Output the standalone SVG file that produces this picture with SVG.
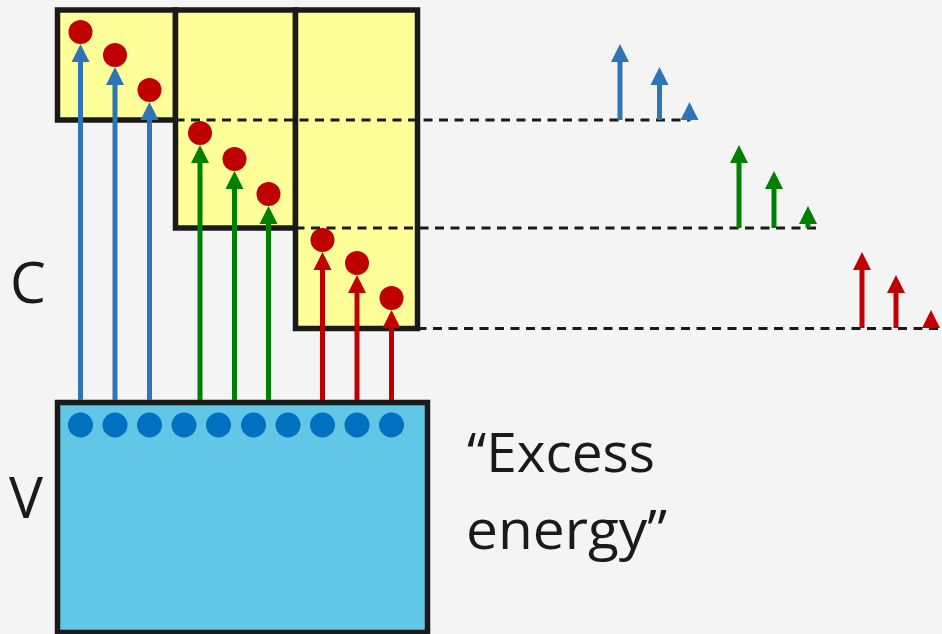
<svg xmlns="http://www.w3.org/2000/svg" width="942" height="634" viewBox="0 0 942 634">
  <style>
    .band { fill: #ffff99; stroke: #1a1a1a; stroke-width: 5.5; }
    .valence { fill: #62c6e6; stroke: #1a1a1a; stroke-width: 5.5; }
    .level { stroke: #1a1a1a; stroke-width: 2.8; stroke-dasharray: 9 6.5; fill: none; }
    .shaft { stroke-width: 5; fill: none; }
    .blue { stroke: #2e75b6; marker-end: url(#headBlue); }
    .green { stroke: #008000; marker-end: url(#headGreen); }
    .red { stroke: #c00000; marker-end: url(#headRed); }
    .electron { fill: #c00000; }
    .hole { fill: #0070c0; }
    .label { font-family: "Open Sans", "Liberation Sans", sans-serif; fill: #1a1a1a; }
  </style>
  <defs>
    <marker id="headBlue" markerUnits="userSpaceOnUse" markerWidth="18" markerHeight="18" viewBox="0 0 18 18" refX="0" refY="9" orient="auto" overflow="visible">
      <path d="M0,0 L18,9 L0,18 Z" fill="#2e75b6"/>
    </marker>
    <marker id="headGreen" markerUnits="userSpaceOnUse" markerWidth="18" markerHeight="18" viewBox="0 0 18 18" refX="0" refY="9" orient="auto" overflow="visible">
      <path d="M0,0 L18,9 L0,18 Z" fill="#008000"/>
    </marker>
    <marker id="headRed" markerUnits="userSpaceOnUse" markerWidth="18" markerHeight="18" viewBox="0 0 18 18" refX="0" refY="9" orient="auto" overflow="visible">
      <path d="M0,0 L18,9 L0,18 Z" fill="#c00000"/>
    </marker>
  </defs>

  <rect x="0" y="0" width="942" height="634" fill="#f4f4f4"/>

  <!-- conduction sub-bands -->
  <g id="band-1"><rect class="band" x="57.5" y="10" width="118" height="110"/></g>
  <g id="band-2"><rect class="band" x="175.5" y="10" width="120" height="218"/></g>
  <g id="band-3"><rect class="band" x="295.5" y="10" width="122" height="318.5"/></g>

  <!-- band-edge levels -->
  <g id="levels">
    <line class="level" x1="175.5" y1="120" x2="690" y2="120"/>
    <line class="level" x1="295.5" y1="228" x2="818" y2="228"/>
    <line class="level" x1="417.5" y1="328.5" x2="942" y2="328.5"/>
  </g>

  <!-- valence band -->
  <g id="valence-band">
    <rect class="valence" x="57.5" y="402.5" width="370" height="230"/>
    <circle class="hole" cx="80.5" cy="425" r="12.5"/>
    <circle class="hole" cx="115" cy="425" r="12.5"/>
    <circle class="hole" cx="149.5" cy="425" r="12.5"/>
    <circle class="hole" cx="184" cy="425" r="12.5"/>
    <circle class="hole" cx="218.5" cy="425" r="12.5"/>
    <circle class="hole" cx="253.5" cy="425" r="12.5"/>
    <circle class="hole" cx="288" cy="425" r="12.5"/>
    <circle class="hole" cx="322.5" cy="425" r="12.5"/>
    <circle class="hole" cx="357" cy="425" r="12.5"/>
    <circle class="hole" cx="391.5" cy="425" r="12.5"/>
  </g>

  <!-- excitation arrows and excess-energy arrows -->
  <g id="connectors">
    <line class="shaft blue" x1="80.5" y1="400" x2="80.5" y2="62"/>
    <line class="shaft blue" x1="115" y1="400" x2="115" y2="85"/>
    <line class="shaft blue" x1="149.5" y1="400" x2="149.5" y2="120"/>
    <line class="shaft green" x1="200" y1="400" x2="200" y2="163"/>
    <line class="shaft green" x1="234.5" y1="400" x2="234.5" y2="189"/>
    <line class="shaft green" x1="268.5" y1="400" x2="268.5" y2="224"/>
    <line class="shaft red" x1="322.5" y1="400" x2="322.5" y2="270"/>
    <line class="shaft red" x1="357" y1="400" x2="357" y2="293"/>
    <line class="shaft red" x1="391.5" y1="400" x2="391.5" y2="328"/>

    <line class="shaft blue" x1="620" y1="120" x2="620" y2="62"/>
    <line class="shaft blue" x1="659.5" y1="120" x2="659.5" y2="85"/>
    <line class="shaft blue" x1="689.5" y1="120.5" x2="689.5" y2="120"/>
    <line class="shaft green" x1="739" y1="228" x2="739" y2="163"/>
    <line class="shaft green" x1="774" y1="228" x2="774" y2="189"/>
    <line class="shaft green" x1="808" y1="228" x2="808" y2="224"/>
    <line class="shaft red" x1="862" y1="328" x2="862" y2="270"/>
    <line class="shaft red" x1="896" y1="328" x2="896" y2="293"/>
    <line class="shaft red" x1="931" y1="328.5" x2="931" y2="328"/>
  </g>

  <!-- excited electrons -->
  <g id="electrons">
    <circle class="electron" cx="80.5" cy="32" r="12"/>
    <circle class="electron" cx="115" cy="55" r="12"/>
    <circle class="electron" cx="149.5" cy="90" r="12"/>
    <circle class="electron" cx="200" cy="133" r="12"/>
    <circle class="electron" cx="234.5" cy="159" r="12"/>
    <circle class="electron" cx="268.5" cy="194" r="12"/>
    <circle class="electron" cx="322.5" cy="240" r="12"/>
    <circle class="electron" cx="357" cy="263" r="12"/>
    <circle class="electron" cx="391.5" cy="298" r="12"/>
  </g>

  <g id="label-c"><text class="label" x="10" y="303" font-size="57">C</text></g>
  <g id="label-v"><text class="label" x="9" y="518" font-size="57">V</text></g>
  <g id="label-excess">
    <text class="label" x="467" y="472" font-size="54" textLength="188" lengthAdjust="spacingAndGlyphs">“Excess</text>
    <text class="label" x="466" y="549" font-size="54" textLength="201" lengthAdjust="spacingAndGlyphs">energy”</text>
  </g>
</svg>
